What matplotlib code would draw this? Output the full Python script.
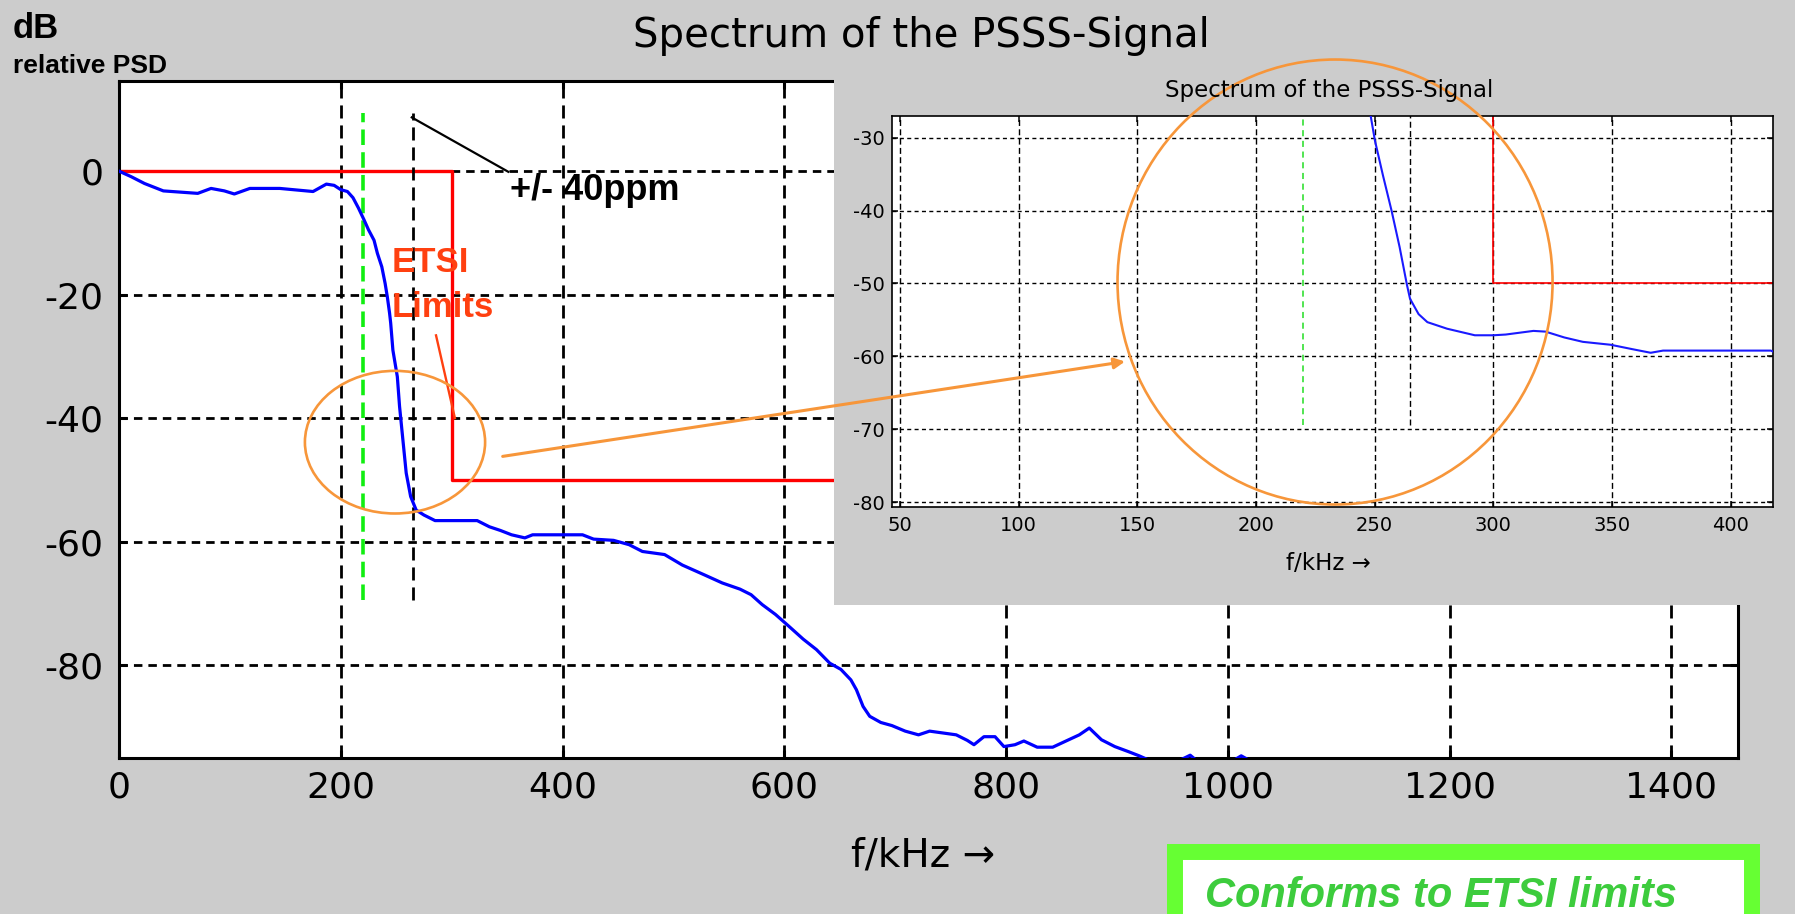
import matplotlib
matplotlib.use("Agg")
import matplotlib.pyplot as plt
from matplotlib.patches import Ellipse, Rectangle, ConnectionPatch

plt.rcParams["axes.unicode_minus"] = False
plt.rcParams["font.family"] = ["DejaVu Sans"]

# ---------------- data ----------------
main_f = [0, 11, 23, 40, 71, 83, 95, 104, 118, 145, 175, 187, 194, 200, 206, 211,
          216, 221, 225, 230, 233, 237, 240, 242, 244, 245, 247, 251, 253, 256, 259,
          263, 268, 275, 285, 323, 334, 344, 354, 366, 373, 418, 428, 446, 460, 472,
          492, 508, 528, 544, 560, 570, 580, 592, 604, 617, 629, 641, 651, 660, 665,
          671, 677, 687, 697, 709, 721, 731, 755, 765, 771, 780, 790, 798, 808, 816,
          828, 842, 854, 866, 875, 886, 898, 910, 920, 930, 945, 958, 966, 972, 1000,
          1012, 1030, 1100, 1200, 1300, 1460]
main_db = [0, -0.9, -2.0, -3.2, -3.6, -2.8, -3.2, -3.7, -2.8, -2.8, -3.3, -2.1, -2.3,
           -3.0, -3.3, -4.3, -6.0, -7.9, -9.5, -11.2, -13.3, -15.5, -18.2, -20.4, -23.0,
           -24.6, -29.0, -33.3, -38.1, -43.5, -48.9, -52.7, -54.9, -55.7, -56.6, -56.6,
           -57.6, -58.2, -58.9, -59.4, -58.9, -58.9, -59.6, -59.8, -60.5, -61.6, -62.1,
           -63.8, -65.4, -66.7, -67.7, -68.6, -70.2, -71.8, -73.7, -75.8, -77.5, -79.7,
           -80.7, -82.4, -84.0, -86.7, -88.3, -89.3, -89.8, -90.7, -91.3, -90.7, -91.3,
           -92.2, -92.9, -91.6, -91.6, -93.2, -92.9, -92.3, -93.3, -93.3, -92.3, -91.3,
           -90.2, -92.1, -93.2, -94.0, -94.7, -95.5, -96.0, -95.3, -94.6, -95.5, -96.0,
           -94.7, -96.5, -98.0, -99.0, -100.0, -101.0]

inset_f = [247.8, 248.3, 250.1, 253.5, 257.1, 260.5, 263.6, 264.9, 268.5, 272.2, 280.5,
           292.2, 300.0, 305.2, 316.9, 322.0, 329.9, 337.7, 349.4, 358.5, 366.3, 371.5,
           384.4, 416.9, 419.0]
inset_db = [-25.0, -27.0, -30.4, -35.2, -40.0, -45.0, -50.2, -52.1, -54.2, -55.3, -56.2,
            -57.1, -57.1, -57.0, -56.5, -56.6, -57.4, -58.0, -58.4, -59.0, -59.5, -59.2,
            -59.2, -59.2, -59.5]

etsi_f = [0, 300, 300, 1460]
etsi_db = [0, 0, -50, -50]

band_edge_f = 220            # green dashed marker
ppm_f = 265                  # black dashed marker (+/- 40 ppm)
marker_db = [-69.4, 9.4]

main_xticks = [0, 200, 400, 600, 800, 1000, 1200, 1400]
main_yticks = [-80, -60, -40, -20, 0]
inset_xticks = [50, 100, 150, 200, 250, 300, 350, 400]
inset_yticks = [-80, -70, -60, -50, -40, -30]

ppm_line_f = [264, 351]
ppm_line_db = [8.7, -0.1]
etsi_ptr_f = [285.9, 302.9]
etsi_ptr_db = [-26.6, -40.0]

# ---------------- figure ----------------
W, H = 1795, 914
fig = plt.figure(figsize=(W / 100, H / 100), dpi=100, facecolor="#cccccc")

def fx(px):
    return px / W

def fy(py):
    return 1 - py / H

BG = "#cccccc"
ORANGE = "#f7963a"
ETSI_TXT = "#ff4010"

# main axes
ax = fig.add_axes([fx(119), fy(758.3), (1738 - 119) / W, (758.3 - 81) / H], zorder=1)
ax.set_xlim(0, 1460)
ax.set_ylim(-95.1, 14.6)
ax.set_xticks(main_xticks)
ax.set_yticks(main_yticks)
ax.tick_params(direction="in", length=6, width=2.2, labelsize=26, top=True, right=True,
               colors="black")
ax.tick_params(axis="x", pad=9)
ax.tick_params(axis="y", pad=11)
for s in ax.spines.values():
    s.set_linewidth(2.2)
ax.grid(axis="x", color="black", lw=2.0, linestyle=(0, (4.7, 2.5)))
ax.grid(axis="y", color="black", lw=2.0, linestyle=(0, (3.05, 2.15)))

ax.plot(etsi_f, etsi_db, color="#ff0000", lw=2.4, zorder=2.5)
ax.plot([band_edge_f, band_edge_f], marker_db, color="#11ee11", lw=2.6,
        linestyle=(0, (4.3, 2.0)), zorder=2.6)
ax.plot([ppm_f, ppm_f], marker_db, color="black", lw=2.0,
        linestyle=(0, (4.7, 2.5)), zorder=2.6)
ax.plot(main_f, main_db, color="#0000ff", lw=2.3, zorder=3)

ax.plot(ppm_line_f, ppm_line_db, color="black", lw=1.6, zorder=4)
ax.text(353, -4.7, "+/- 40ppm", fontsize=26, fontweight="bold",
        family=["Liberation Sans"], va="baseline", ha="left", zorder=5)
ax.text(246, -16.3, "ETSI", fontsize=25, fontweight="bold", color=ETSI_TXT,
        family=["Liberation Sans"], va="baseline", ha="left", zorder=5)
ax.text(246, -23.6, "Limits", fontsize=25, fontweight="bold", color=ETSI_TXT,
        family=["Liberation Sans"], va="baseline", ha="left", zorder=5)
ax.plot(etsi_ptr_f, etsi_ptr_db, color=ETSI_TXT, lw=1.7, zorder=4)
ax.add_patch(Ellipse((248.9, -43.9), 162.5, 23.1, fill=False, edgecolor=ORANGE,
                     lw=1.9, zorder=4))

# texts of main figure
fig.text(fx(921.5), fy(46.7), "Spectrum of the PSSS-Signal", fontsize=29,
         ha="center", va="baseline")
fig.text(fx(923), fy(867), "f/kHz \u2192", fontsize=28, ha="center", va="baseline")
fig.text(fx(13), fy(38), "dB", fontsize=25, fontweight="bold",
         family=["Liberation Sans"], va="baseline")
fig.text(fx(13), fy(73), "relative PSD", fontsize=19, fontweight="bold",
         family=["Liberation Sans"], va="baseline")

# inset grey panel
pan = fig.add_axes([fx(834), fy(605), (W - 834) / W, (605 - 62) / H], zorder=2)
pan.set_facecolor(BG)
pan.set_xticks([])
pan.set_yticks([])
for s in pan.spines.values():
    s.set_visible(False)

# inset axes
axin = fig.add_axes([fx(891.7), fy(506.7), (1773.4 - 891.7) / W, (506.7 - 115.7) / H],
                    zorder=3)
axin.set_xlim(46.5, 418)
axin.set_ylim(-80.6, -27)
axin.set_xticks(inset_xticks)
axin.set_yticks(inset_yticks)
axin.tick_params(direction="in", length=4, width=1.1, labelsize=14, top=True, right=True)
axin.tick_params(axis="x", pad=7)
axin.tick_params(axis="y", pad=5)
for s in axin.spines.values():
    s.set_linewidth(1.2)
axin.grid(axis="x", color="black", lw=1.0, linestyle=(0, (4.3, 2.4)))
axin.grid(axis="y", color="black", lw=1.0, linestyle=(0, (2.9, 2.4)))
axin.plot(etsi_f, etsi_db, color="#ff0000", lw=1.2, zorder=2.5)
axin.plot([band_edge_f, band_edge_f], marker_db, color="#22dd22", lw=1.1,
          linestyle=(0, (4.0, 3.0)), zorder=2.6)
axin.plot([ppm_f, ppm_f], marker_db, color="black", lw=1.0,
          linestyle=(0, (4.3, 2.4)), zorder=2.6)
axin.plot(inset_f, inset_db, color="#1a1aff", lw=1.5, zorder=3)
axin.add_patch(Ellipse((233.3, -49.8), 183.3, 61.0, fill=False, edgecolor=ORANGE,
                       lw=1.9, zorder=5, clip_on=False))

fig.text(fx(1329), fy(96.5), "Spectrum of the PSSS-Signal", fontsize=16.5,
         ha="center", va="baseline", zorder=6)
fig.text(fx(1328), fy(570), "f/kHz \u2192", fontsize=16.5, ha="center",
         va="baseline", zorder=6)

# arrow from main ellipse to inset
con = ConnectionPatch(xyA=(346, -46.2), coordsA=ax.transData,
                      xyB=(144.8, -60.7), coordsB=axin.transData,
                      arrowstyle="-|>", mutation_scale=16, color=ORANGE, lw=2.2,
                      zorder=10)
fig.add_artist(con)

# green "conforms" box
box = Rectangle((fx(1175), fy(940)), (1752 - 1175) / W, (940 - 852) / H,
                transform=fig.transFigure, facecolor="white", edgecolor="#66ff33",
                lw=11.5, zorder=8)
fig.add_artist(box)
fig.text(fx(1205), fy(907), "Conforms to ETSI limits", fontsize=30, fontweight="bold",
         fontstyle="italic", color="#3dcc3d", family=["Liberation Sans"],
         va="baseline", ha="left", zorder=9)

fig.savefig("out.png", dpi=100, facecolor=fig.get_facecolor())
